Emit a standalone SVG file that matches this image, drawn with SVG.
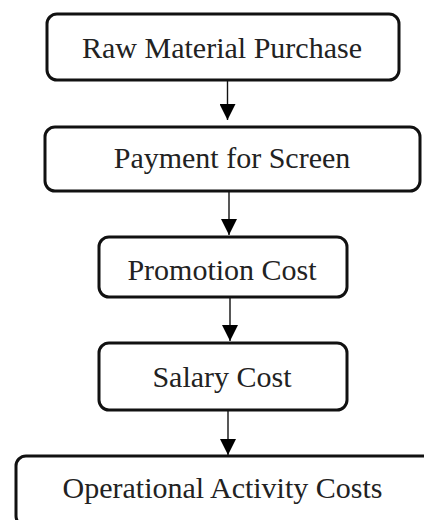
<svg xmlns="http://www.w3.org/2000/svg" width="424" height="520" viewBox="0 0 424 520">
<defs>
<marker id="ah" markerUnits="userSpaceOnUse" markerWidth="16" markerHeight="16" viewBox="0 0 16 16" refX="16" refY="8" orient="auto">
<path d="M0,0 L16,8 L0,16 z" fill="#000"/>
</marker>
<style>
.box{fill:#fff;stroke:#111;stroke-width:3}
.lbl{font-family:"Liberation Serif","Times New Roman",serif;font-size:30px;fill:#222;text-anchor:middle}
.con{stroke:#111;stroke-width:1.4;fill:none;marker-end:url(#ah)}
</style>
</defs>
<rect width="424" height="520" fill="#fff"/>
<g id="connectors">
<line class="con" x1="227.5" y1="81" x2="227.5" y2="120"/>
<line class="con" x1="229" y1="192" x2="229" y2="235"/>
<line class="con" x1="230" y1="298" x2="230" y2="341"/>
<line class="con" x1="228" y1="411" x2="228" y2="455"/>
</g>
<g id="n1">
<rect class="box" x="47" y="14" width="352" height="66" rx="10"/>
<text class="lbl" x="222" y="58">Raw Material Purchase</text>
</g>
<g id="n2">
<rect class="box" x="45" y="127" width="375" height="64" rx="10"/>
<text class="lbl" x="232" y="168">Payment for Screen</text>
</g>
<g id="n3">
<rect class="box" x="99" y="237" width="248" height="60" rx="10"/>
<text class="lbl" x="222" y="280">Promotion Cost</text>
</g>
<g id="n4">
<rect class="box" x="99" y="343" width="248" height="67" rx="10"/>
<text class="lbl" x="222" y="387">Salary Cost</text>
</g>
<g id="n5">
<rect class="box" x="16" y="456" width="420" height="70" rx="10"/>
<text class="lbl" x="222.5" y="498">Operational Activity Costs</text>
</g>
</svg>
